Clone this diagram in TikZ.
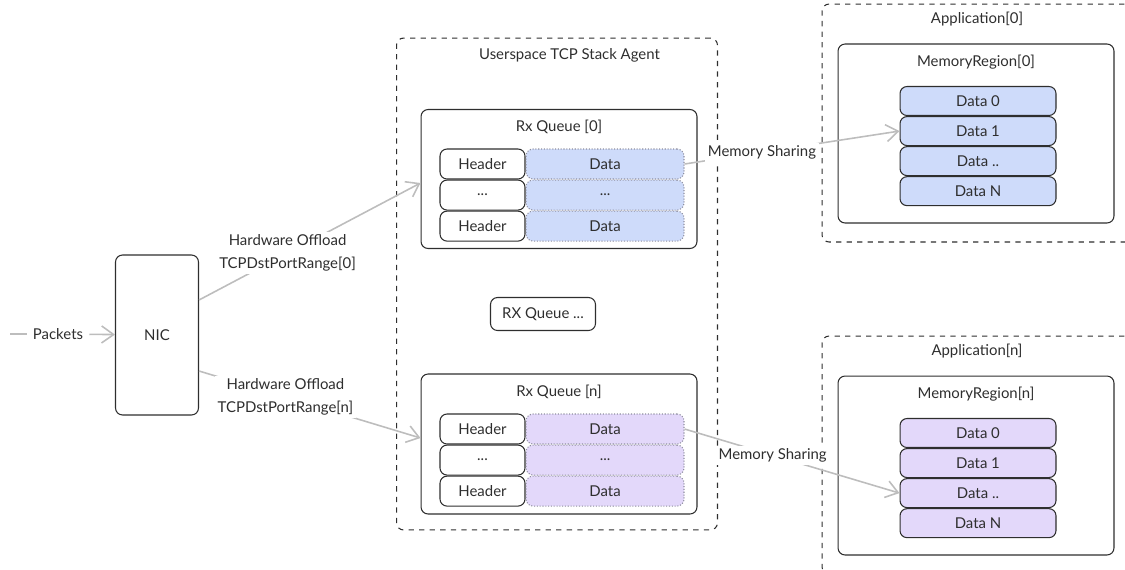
\documentclass[tikz,border=0pt]{standalone}
\usepackage{fontspec}
\setmainfont{Lato}
\usetikzlibrary{arrows.meta,positioning}
\definecolor{ink}{HTML}{2E2E2E}
\definecolor{wire}{HTML}{BDBDBD}
\definecolor{qblue}{HTML}{CEDBFA}
\definecolor{qlilac}{HTML}{E3D8FA}
\definecolor{dotline}{HTML}{8E8E9E}

\begin{document}
\begin{tikzpicture}[x=0.02cm, y=-0.02cm,
  every node/.style={font=\fontsize{8.5}{13}\selectfont, text=ink},
  box/.style={draw=ink, line width=0.6pt, rounded corners=4pt, align=center},
  dbox/.style={draw=ink, line width=0.6pt, dashed, rounded corners=4pt},
  hdr/.style={box, minimum width=17mm, minimum height=6mm, inner sep=0pt},
  dat/.style={draw=dotline, densely dotted, line width=0.6pt, rounded corners=4pt,
              minimum width=31.6mm, minimum height=6mm, inner sep=0pt},
  cell/.style={box, minimum width=31.2mm, minimum height=5.8mm, inner sep=0pt},
  lbl/.style={fill=white, align=center, inner sep=1.5pt},
  wline/.style={wire, line width=0.9pt},
  warr/.style={wline, -{Straight Barb[length=2.4mm, width=3.4mm]}}]
  \clip (0,0) rectangle (1125,569);

  % input side
  \coordinate (feed) at (10,334);
  \node (pk) at (58,334) {Packets};
  \node[box, minimum width=16.6mm, minimum height=32mm] (nic) at (157,335) {NIC};
  \draw[wline] (feed) -- (pk);
  \draw[warr] (pk) -- (nic);

  % stack agent
  \node[dbox, minimum width=64.2mm, minimum height=98.4mm] (agent) at (557,284) {};
  \node[below=2.5pt of agent.north, xshift=2.5mm] {Userspace TCP Stack Agent};
  \node[box, minimum width=21mm, minimum height=6.6mm] (qmid) at (543,314) {RX Queue ...};

  \node[box, minimum width=55.2mm, minimum height=27.8mm] (q0) at (559,179) {};
  \node[below=3pt of q0.north] {Rx Queue [0]};
  \node[box, minimum width=55.2mm, minimum height=28mm] (qn) at (559,444) {};
  \node[below=3pt of qn.north] {Rx Queue [n]};

  \foreach \q/\y/\c in {0/164/qblue, n/429/qlilac}{
    \node[hdr] (q\q h1) at (482.5,\y) {Header};
    \node[hdr, below=0pt of q\q h1] (q\q h2) {...};
    \node[hdr, below=0pt of q\q h2] (q\q h3) {Header};
    \node[dat, fill=\c, right=0pt of q\q h1] (q\q d1) {Data};
    \node[dat, fill=\c, right=0pt of q\q h2] (q\q d2) {...};
    \node[dat, fill=\c, right=0pt of q\q h3] (q\q d3) {Data};
  }

  \draw[warr] (nic.east |- 0,300) -- node[lbl, pos=0.4] {Hardware Offload\\TCPDstPortRange[0]} (q0.west |- 0,183);
  \draw[warr] (nic.east |- 0,371) -- node[lbl, pos=0.39] {Hardware Offload\\TCPDstPortRange[n]} (qn.west |- 0,438);

  % applications
  \foreach \a/\y/\c in {0/123/qblue, n/455/qlilac}{
    \node[dbox, minimum width=64mm, minimum height=47.6mm] (app\a) at (982,\y) {};
    \node[below=1.5pt of app\a.north, xshift=-1mm] {Application[\a]};
    \node[box, minimum width=55.2mm, minimum height=35.8mm] (mr\a) at (976,\y+10.5) {};
    \node[below=3pt of mr\a.north] {MemoryRegion[\a]};
    \node[cell, fill=\c] (m\a c0) at (978,\y-22) {Data 0};
    \node[cell, fill=\c, below=0pt of m\a c0] (m\a c1) {Data 1};
    \node[cell, fill=\c, below=0pt of m\a c1] (m\a c2) {Data ..};
    \node[cell, fill=\c, below=0pt of m\a c2] (m\a c3) {Data N};
  }

  \draw[warr] (q0d1.east) -- node[lbl, pos=0.36] {Memory Sharing} (m0c1.west);
  \draw[warr] (qnd1.east) -- node[lbl, pos=0.41] {Memory Sharing} (mnc2.west);
\end{tikzpicture}
\end{document}
